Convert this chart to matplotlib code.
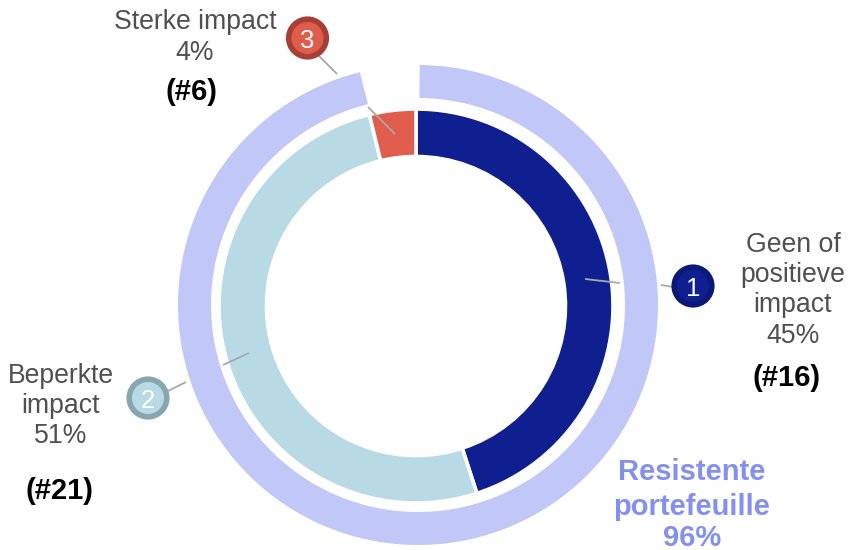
import matplotlib
matplotlib.use("Agg")
import matplotlib.pyplot as plt
from matplotlib.patches import Circle

plt.rcParams['font.family'] = ['Liberation Sans', 'DejaVu Sans']

W, H = 849, 550
categories = ["Geen of\npositieve\nimpact", "Beperkte\nimpact", "Sterke impact"]
shares = [45, 51.2, 3.8]
share_labels = ["45%", "51%", "4%"]
counts = ["(#16)", "(#21)", "(#6)"]
colors = ["#101F8F", "#B8DAE4", "#E05C4D"]
edges = ["#0C1878", "#88A6AE", "#A63F35"]
resilient_share = 96
resilient_text = "96%"
resilient_label = "Resistente\nportefeuille"

fig = plt.figure(figsize=(W / 100, H / 100), dpi=100)
ax = fig.add_axes([0, 0, 1, 1])

def Y(y):
    return H - y

# outer ring
ax.pie([resilient_share, 100 - resilient_share], colors=["#C1C7F7", "none"],
       startangle=89.6, counterclock=False, center=(418, Y(305)), radius=240,
       frame=True, wedgeprops=dict(width=33, linewidth=0))
# inner donut
ax.pie(shares, colors=colors, startangle=90, counterclock=False,
       center=(416, Y(306)), radius=197, frame=True,
       wedgeprops=dict(width=47.5, linewidth=2.6, edgecolor="white"))
ax.set_xlim(0, W)
ax.set_ylim(0, H)
ax.set_aspect("equal")
ax.axis("off")

leaders = [[((585, 279), (620, 283)), ((661, 285), (674, 287))],
           [((223, 365), (249, 353)), ((168, 391), (186, 382))],
           [((368, 107), (395, 134)), ((319, 56), (337, 74))]]
for segs in leaders:
    for (x0, y0), (x1, y1) in segs:
        ax.plot([x0, x1], [Y(y0), Y(y1)], color="#A8A8A8", lw=1.3, zorder=4,
                solid_capstyle="butt")

centers = [(693, 286), (148, 398), (307.5, 38)]
for i, (cx, cy) in enumerate(centers):
    ax.add_patch(Circle((cx, Y(cy)), 18.8, facecolor=colors[i], edgecolor=edges[i],
                        lw=4, zorder=5))
    ax.text(cx, Y(cy + 1), str(i + 1), color="white", fontsize=18.5, ha="center",
            va="center_baseline", zorder=6)

GREY = "#505050"
FS = 19.2
label_pos = [(793, [245, 275, 305, 336], 787, 378),
             (61, [376, 406, 436], 59.5, 491),
             (195, [22, 53], 192, 92)]
for i, (x, ys, xb, yb) in enumerate(label_pos):
    lines = categories[i].split("\n") + [share_labels[i]]
    for line, y in zip(lines, ys):
        ax.text(x, Y(y), line, color=GREY, fontsize=FS, ha="center", va="center")
    ax.text(xb, Y(yb), counts[i], color="black", fontsize=21,
            fontweight="bold", ha="center", va="center")

for line, y in zip(resilient_label.split("\n") + [resilient_text], [472, 507, 537.5]):
    ax.text(692, Y(y), line, color="#8390F0", fontsize=21, fontweight="bold",
            ha="center", va="center")

fig.savefig("out.png", dpi=100)
